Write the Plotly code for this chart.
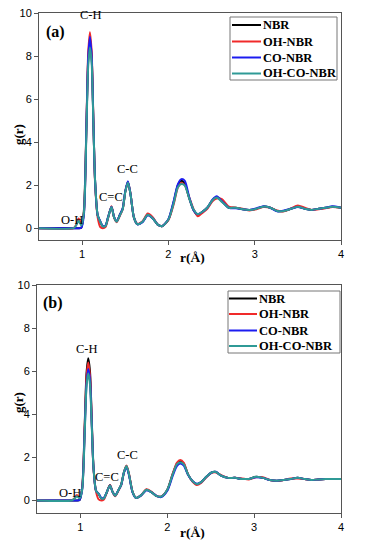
import plotly.graph_objects as go

# The page body has an 8 px margin, so the figure is drawn 8 px smaller and
# all reference pixel positions are shifted by that offset.
OFF = 8
W, H = 371 - OFF, 550 - OFF

r = [0.5, 0.9, 0.93, 0.96, 0.99, 1.02, 1.05, 1.07, 1.09, 1.11, 1.13, 1.15, 1.18, 1.21,
     1.24, 1.27, 1.30, 1.34, 1.37, 1.40, 1.44, 1.47, 1.50, 1.53, 1.56, 1.60, 1.64, 1.70,
     1.76, 1.82, 1.88, 1.93, 2.00, 2.06, 2.11, 2.15, 2.19, 2.24, 2.29, 2.34, 2.39, 2.45,
     2.51, 2.56, 2.62, 2.70, 2.78, 2.86, 2.94, 3.02, 3.10, 3.18, 3.26, 3.34, 3.42, 3.50,
     3.58, 3.66, 3.74, 3.82, 3.90, 4.00]

series_names = ["NBR", "OH-NBR", "CO-NBR", "OH-CO-NBR"]
series_colors = ["#000000", "#f02a2a", "#1c1cf0", "#2f9a96"]

# panel (a)
a_nbr = [0, 0, 0, 0, 0.02, 0.8, 4.8, 7.8, 8.8, 8.0, 5.0, 2.2, 0.6, 0.3,
         0.08, 0.1, 0.5, 1.0, 0.5, 0.3, 0.65, 0.9, 1.7, 2.15, 1.6, 0.5, 0.18, 0.3,
         0.62, 0.45, 0.15, 0.1, 0.4, 1.2, 2.0, 2.2, 2.05, 1.4, 0.85, 0.62, 0.75, 0.95,
         1.3, 1.45, 1.25, 0.95, 0.95, 0.88, 0.85, 0.9, 1.0, 0.95, 0.8, 0.8, 0.9, 1.0,
         0.9, 0.85, 0.9, 0.95, 1.0, 0.95]
a_oh = [0, 0, 0.15, 0.45, 0.15, 0.7, 4.9, 8.1, 9.1, 8.2, 5.1, 2.1, 0.5, 0.05,
        0.0, 0.05, 0.45, 1.02, 0.5, 0.28, 0.6, 0.88, 1.7, 2.15, 1.62, 0.5, 0.2, 0.32,
        0.68, 0.5, 0.15, 0.1, 0.38, 1.1, 1.9, 2.1, 2.0, 1.45, 0.9, 0.55, 0.7, 0.9,
        1.25, 1.38, 1.35, 1.0, 0.95, 0.9, 0.82, 0.88, 0.98, 0.95, 0.82, 0.78, 0.92, 1.05,
        0.95, 0.85, 0.88, 0.92, 0.98, 0.95]
a_co = [0, 0, 0, 0, 0.02, 0.6, 4.8, 7.9, 8.9, 8.0, 5.0, 2.2, 0.6, 0.32,
        0.1, 0.12, 0.5, 1.0, 0.52, 0.32, 0.65, 0.92, 1.72, 2.18, 1.6, 0.5, 0.18, 0.28,
        0.6, 0.45, 0.15, 0.1, 0.42, 1.25, 2.05, 2.28, 2.2, 1.45, 0.85, 0.65, 0.75, 0.95,
        1.32, 1.48, 1.25, 0.95, 0.92, 0.88, 0.85, 0.92, 1.02, 0.95, 0.78, 0.82, 0.9, 0.98,
        0.9, 0.85, 0.9, 0.95, 1.02, 0.95]
a_ohco = [0, 0, 0.12, 0.35, 0.12, 0.7, 4.6, 7.5, 8.4, 7.7, 4.9, 2.2, 0.6, 0.3,
          0.08, 0.1, 0.48, 0.98, 0.5, 0.3, 0.62, 0.88, 1.68, 2.12, 1.6, 0.5, 0.18, 0.3,
          0.62, 0.45, 0.15, 0.1, 0.4, 1.15, 1.9, 2.05, 1.98, 1.4, 0.88, 0.65, 0.75, 0.95,
          1.3, 1.42, 1.22, 0.95, 0.95, 0.88, 0.85, 0.9, 1.0, 0.95, 0.8, 0.8, 0.9, 1.0,
          0.9, 0.85, 0.9, 0.95, 1.0, 0.95]

# panel (b)
b_nbr = [0, 0, 0, 0, 0.02, 0.6, 3.6, 5.9, 6.6, 6.0, 3.8, 1.6, 0.45, 0.3,
         0.1, 0.1, 0.35, 0.72, 0.4, 0.22, 0.5, 0.75, 1.3, 1.6, 1.2, 0.4, 0.12, 0.25,
         0.5, 0.38, 0.2, 0.18, 0.5, 1.2, 1.7, 1.82, 1.7, 1.2, 0.9, 0.75, 0.85, 1.1,
         1.3, 1.32, 1.15, 1.05, 1.05, 1.0, 1.0, 1.1, 1.05, 0.95, 0.92, 0.95, 1.0, 1.05,
         1.0, 0.95, 0.98, 1.0, 1.0, 1.0]
b_oh = [0, 0, 0.1, 0.25, 0.12, 0.55, 3.5, 5.7, 6.4, 5.8, 3.7, 1.5, 0.4, 0.05,
        0.0, 0.05, 0.32, 0.72, 0.4, 0.2, 0.48, 0.72, 1.28, 1.62, 1.22, 0.4, 0.12, 0.25,
        0.52, 0.4, 0.2, 0.18, 0.48, 1.2, 1.75, 1.88, 1.75, 1.2, 0.88, 0.72, 0.82, 1.08,
        1.28, 1.3, 1.18, 1.05, 1.05, 1.02, 0.98, 1.08, 1.08, 0.95, 0.9, 0.95, 1.02, 1.02,
        1.0, 0.95, 0.98, 1.0, 1.0, 1.0]
b_co = [0, 0, 0, 0, 0.02, 0.5, 3.3, 5.4, 6.1, 5.6, 3.6, 1.55, 0.45, 0.32,
        0.12, 0.12, 0.35, 0.7, 0.4, 0.24, 0.5, 0.72, 1.28, 1.55, 1.15, 0.38, 0.12, 0.24,
        0.48, 0.38, 0.2, 0.16, 0.45, 1.12, 1.6, 1.72, 1.62, 1.18, 0.9, 0.78, 0.85, 1.1,
        1.3, 1.33, 1.15, 1.05, 1.05, 1.0, 1.0, 1.08, 1.05, 0.95, 0.92, 0.95, 1.0, 1.05,
        1.0, 0.95, 0.98, 1.0, 1.0, 1.0]
b_ohco = [0, 0, 0.08, 0.2, 0.1, 0.5, 3.2, 5.3, 5.9, 5.4, 3.5, 1.55, 0.45, 0.3,
          0.1, 0.1, 0.35, 0.7, 0.4, 0.22, 0.5, 0.74, 1.3, 1.6, 1.2, 0.4, 0.12, 0.25,
          0.5, 0.38, 0.2, 0.18, 0.5, 1.18, 1.68, 1.78, 1.68, 1.2, 0.9, 0.76, 0.85, 1.1,
          1.3, 1.32, 1.15, 1.05, 1.05, 1.0, 1.0, 1.1, 1.05, 0.95, 0.92, 0.95, 1.0, 1.05,
          1.0, 0.95, 0.98, 1.0, 1.0, 1.0]

y_ticks = [0, 2, 4, 6, 8, 10]
x_ticks = [1, 2, 3, 4]

panel_a = [a_nbr, a_oh, a_co, a_ohco]
panel_b = [b_nbr, b_oh, b_co, b_ohco]

SERIF = "Liberation Serif"
SANS = "Liberation Sans"

fig = go.Figure()
for name, col, ys in zip(series_names, series_colors, panel_a):
    fig.add_trace(go.Scatter(x=r, y=ys, mode="lines", name=name, showlegend=False,
                             line=dict(color=col, width=2, shape="spline", smoothing=0.7),
                             xaxis="x", yaxis="y"))
for name, col, ys in zip(series_names, series_colors, panel_b):
    fig.add_trace(go.Scatter(x=r, y=ys, mode="lines", name=name, showlegend=False,
                             line=dict(color=col, width=2, shape="spline", smoothing=0.7),
                             xaxis="x2", yaxis="y2"))


def px_x(p):
    return (p - OFF) / W


def px_y(p):
    return 1 - (p - OFF) / H


axis_common = dict(showline=True, mirror=True, linecolor="#555555", linewidth=1,
                   ticks="outside", ticklen=4, tickcolor="#555555", showgrid=False,
                   zeroline=False, tickfont=dict(family=SANS, size=11, color="#000"),
                   automargin=False, ticklabeloverflow="allow")

fig.update_layout(
    width=W, height=H, margin=dict(l=0, r=0, t=0, b=0),
    paper_bgcolor="white", plot_bgcolor="white", showlegend=False,
    xaxis=dict(domain=[px_x(39), px_x(341)], range=[0.5, 4], tickvals=x_ticks,
               anchor="y", **axis_common),
    yaxis=dict(domain=[px_y(240), px_y(13)], range=[-0.55, 10], tickvals=y_ticks,
               anchor="x", **axis_common),
    xaxis2=dict(domain=[px_x(37), px_x(341)], range=[0.5, 4], tickvals=x_ticks,
                anchor="y2", **axis_common),
    yaxis2=dict(domain=[px_y(513), px_y(285)], range=[-0.58, 10], tickvals=y_ticks,
                anchor="x2", **axis_common),
)


def label(text, x, y, size=12.5, bold=False, angle=0, xanchor="center"):
    fig.add_annotation(text=text, x=px_x(x), y=px_y(y), xref="paper", yref="paper",
                       showarrow=False, textangle=angle,
                       font=dict(family=SERIF, size=size, color="#000",
                                 weight="bold" if bold else "normal"),
                       xanchor=xanchor, yanchor="middle")


def legend_box(x0, x1, y0, y1, line_x0, line_x1, text_x, ys):
    fig.add_shape(type="rect", xref="paper", yref="paper",
                  x0=px_x(x0), x1=px_x(x1), y0=px_y(y1), y1=px_y(y0),
                  line=dict(color="#777777", width=1), fillcolor="white", layer="above")
    for name, col, yy in zip(series_names, series_colors, ys):
        fig.add_shape(type="line", xref="paper", yref="paper",
                      x0=px_x(line_x0), x1=px_x(line_x1), y0=px_y(yy), y1=px_y(yy),
                      line=dict(color=col, width=2), layer="above")
        label(name, text_x, yy, size=12.5, bold=True, xanchor="left")


legend_box(230, 337, 17, 80, 232, 261, 261, [25, 41.5, 57.5, 73.5])
legend_box(228, 340, 291, 353, 229, 257, 257, [298.5, 314, 330.5, 346])

# panel (a) labels
label("(a)", 55, 32, size=16, bold=True)
label("C-H", 91, 15)
label("O-H", 72, 220)
label("C=C", 111, 197)
label("C-C", 127, 169)
label("r(Å)", 192, 258, size=13.5, bold=True)
label("g(r)", 18, 135, size=13, bold=True, angle=-90)

# panel (b) labels
label("(b)", 53, 303, size=16, bold=True)
label("C-H", 87, 349)
label("O-H", 70, 493)
label("C=C", 107, 477)
label("C-C", 127, 455)
label("r(Å)", 192, 532, size=13.5, bold=True)
label("g(r)", 18, 403, size=13, bold=True, angle=-90)

fig.write_html("out.html")
